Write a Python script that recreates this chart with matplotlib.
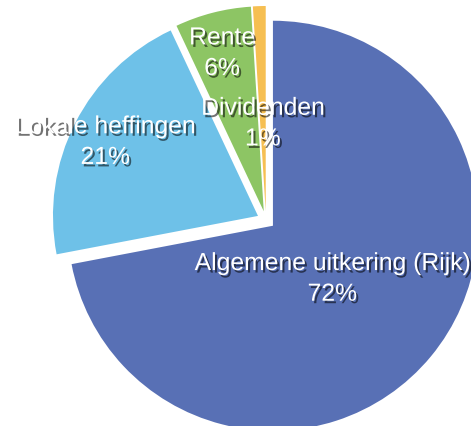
import matplotlib.pyplot as plt
import matplotlib.patheffects as pe
import numpy as np

labels = ["Algemene uitkering (Rijk)", "Lokale heffingen", "Rente", "Dividenden"]
values = [72, 21, 6, 1]
colors = ["#5870B5", "#6EC1E8", "#8DC564", "#F6BF52"]

# label distance from centre (fraction of radius) for each slice
label_r = [0.42, 0.88, 0.86, 0.49]

fig = plt.figure(figsize=(4.71, 4.27), dpi=100)
ax = fig.add_axes([0, 0, 1, 1])

cx, cy, R = 266, 427 - 221, 205
# explode is in data units here (pixels)
wedges, _ = ax.pie(values, colors=colors, startangle=90, counterclock=False,
                   radius=R, center=(cx, cy), explode=[9] * len(values),
                   wedgeprops=dict(linewidth=0))

shadow = [pe.withSimplePatchShadow(offset=(1.5, -1.8), shadow_rgbFace="black", alpha=0.55)]
for w, lab, v, fr in zip(wedges, labels, values, label_r):
    ang = np.deg2rad((w.theta1 + w.theta2) / 2)
    x = cx + fr * R * np.cos(ang)
    y = cy + fr * R * np.sin(ang) - 3.5
    ax.text(x, y, f"{lab}\n{v}%", ha="center", va="center", color="white",
            fontsize=17.8, family="Liberation Sans", linespacing=1.35,
            path_effects=shadow)

ax.set_xlim(0, 471)
ax.set_ylim(0, 427)
ax.set_aspect("equal")
ax.axis("off")
plt.savefig("out.png", dpi=100)
